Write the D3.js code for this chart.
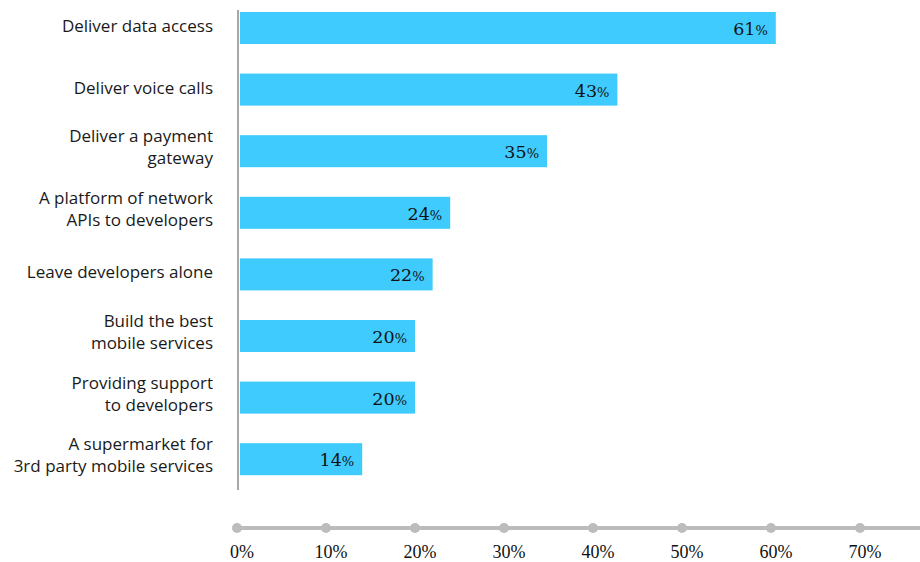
<!DOCTYPE html>
<html>
<head>
<meta charset="utf-8">
<script src="https://d3js.org/d3.v7.min.js"></script>
<style>
  body { margin: 0; background: #fff; }
</style>
</head>
<body>
<div id="my_dataviz"></div>
<script>
// Data
var categories = [
  ["Deliver data access"],
  ["Deliver voice calls"],
  ["Deliver a payment", "gateway"],
  ["A platform of network", "APIs to developers"],
  ["Leave developers alone"],
  ["Build the best", "mobile services"],
  ["Providing support", "to developers"],
  ["A supermarket for", "3rd party mobile services"]
];
var values = [61, 43, 35, 24, 22, 20, 20, 14];
var tickValues = [0, 10, 20, 30, 40, 50, 60, 70];

var width = 920, height = 562;

var svg = d3.select("#my_dataviz")
  .append("svg")
    .attr("width", width)
    .attr("height", height);

// Scales: the axis dots and the bars are not quite on the same scale in the original
var x = d3.scaleLinear()
  .domain([0, 70])
  .range([237, 860]);

var xBar = d3.scaleLinear()
  .domain([0, 70])
  .range([239, 855]);

var y = d3.scaleBand()
  .domain(d3.range(categories.length))
  .range([-2.8, 490])
  .paddingInner(0.48)
  .paddingOuter(0.24);

// Bars
svg.append("g")
  .selectAll("rect")
  .data(values)
  .enter().append("rect")
    .attr("x", xBar(0) + 1)
    .attr("y", function(d, i) { return y(i); })
    .attr("width", function(d) { return xBar(d) - xBar(0) - 1; })
    .attr("height", y.bandwidth())
    .attr("fill", "#3fcbfd");

// Vertical axis line
svg.append("line")
  .attr("x1", x(0) + 1).attr("x2", x(0) + 1)
  .attr("y1", 10).attr("y2", 490)
  .attr("stroke", "#a8a8a8")
  .attr("stroke-width", 2);

// Category labels (right aligned, some on 2 lines)
var labels = svg.append("g")
  .selectAll("text")
  .data(categories)
  .enter().append("text")
    .attr("text-anchor", "end")
    .style("font-family", "'Open Sans', sans-serif")
    .style("font-size", "17px")
    .attr("fill", "#1a1a1a");

labels.each(function(lines, i) {
  var cy = y(i) + y.bandwidth() / 2;
  var startY = lines.length > 1 ? cy - 9 : cy + 4;
  d3.select(this).selectAll("tspan")
    .data(lines)
    .enter().append("tspan")
      .attr("x", 213)
      .attr("y", function(d, j) { return startY + j * 22; })
      .text(function(d) { return d; });
});

// Value labels inside bars
var vlab = svg.append("g")
  .selectAll("text")
  .data(values)
  .enter().append("text")
    .attr("x", function(d) { return xBar(d) - 8; })
    .attr("y", function(d, i) { return y(i) + y.bandwidth() / 2 + 7; })
    .attr("text-anchor", "end")
    .style("font-family", "'DejaVu Serif', serif")
    .style("font-size", "17.5px")
    .attr("fill", "#111");
vlab.append("tspan").text(function(d) { return d; });
vlab.append("tspan").style("font-size", "13px").text("%");

// Bottom axis: thick gray line with dots at ticks
var axisY = 528;
svg.append("line")
  .attr("x1", x(0) - 4).attr("x2", width)
  .attr("y1", axisY).attr("y2", axisY)
  .attr("stroke", "#bcbcbc")
  .attr("stroke-width", 4);

svg.append("g")
  .selectAll("circle")
  .data(tickValues)
  .enter().append("circle")
    .attr("cx", function(d) { return x(d); })
    .attr("cy", axisY)
    .attr("r", 5)
    .attr("fill", "#bcbcbc");

svg.append("g")
  .selectAll("text")
  .data(tickValues)
  .enter().append("text")
    .attr("x", function(d) { return x(d) + 5; })
    .attr("y", 558)
    .attr("text-anchor", "middle")
    .style("font-family", "'Liberation Serif', serif")
    .style("font-size", "18px")
    .attr("fill", "#111")
    .text(function(d) { return d + "%"; });
</script>
</body>
</html>
